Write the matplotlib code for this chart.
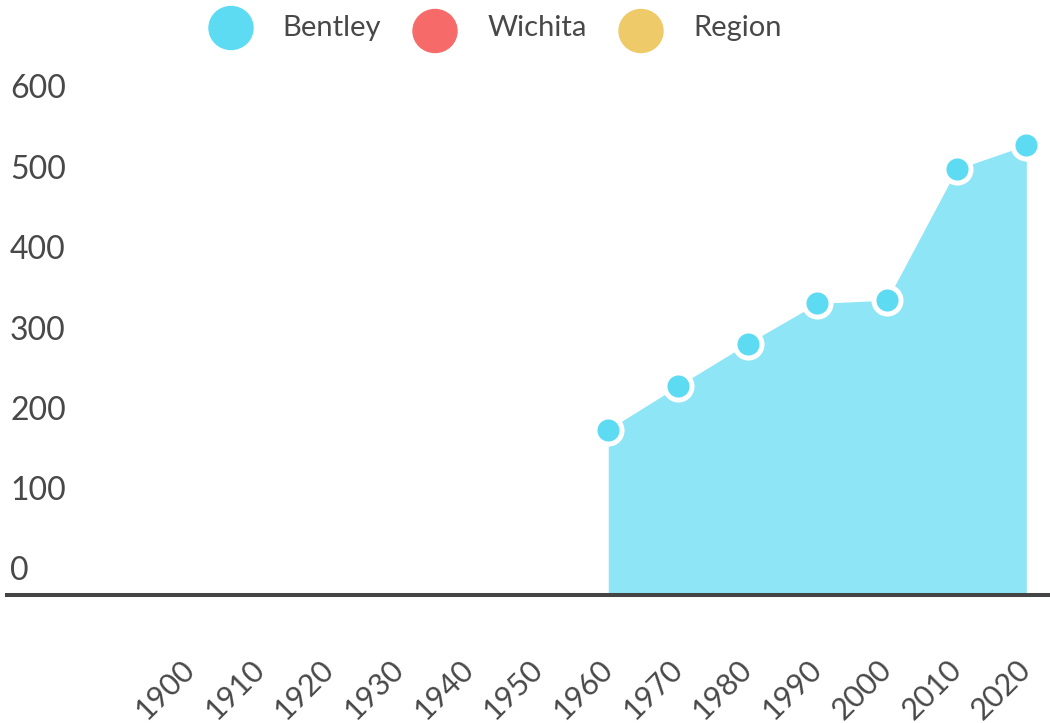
import matplotlib
matplotlib.use("Agg")
import matplotlib.pyplot as plt
from matplotlib.patches import Ellipse
from matplotlib.transforms import ScaledTranslation, blended_transform_factory

# population data (Bentley), no data before 1960
years = [1900, 1910, 1920, 1930, 1940, 1950, 1960, 1970, 1980, 1990, 2000, 2010, 2020]
data_years = [1960, 1970, 1980, 1990, 2000, 2010, 2020]
bentley = [206, 260, 313, 363, 367, 530, 560]
y_ticks = [0, 100, 200, 300, 400, 500, 600]
legend_names = ["Bentley", "Wichita", "Region"]
legend_colors = ["#5ddbf3", "#f76a6a", "#eeca69"]

text_color = "#484848"
fill_color = "#8de5f6"
plt.rcParams["font.family"] = ["Lato", "DejaVu Sans"]

W, H = 1050, 723
fig = plt.figure(figsize=(W / 100, H / 100), dpi=100)

# main axes: baseline at y=595 px, 600 at y=113 px
ax = fig.add_axes([7 / W, (H - 595) / H, 1043 / W, 482 / H])
ax.set_xlim(1873.7, 2023.4)
ax.set_ylim(0, 600)

ax.fill_between(data_years, bentley, 0, color=fill_color, linewidth=0, zorder=1)
ax.plot(data_years, bentley, linestyle="none", marker="o", markersize=19.5,
        markerfacecolor=legend_colors[0], markeredgecolor="white",
        markeredgewidth=3.6, clip_on=False, zorder=3)

for side in ["top", "right", "left"]:
    ax.spines[side].set_visible(False)
ax.spines["bottom"].set_color("#444444")
ax.spines["bottom"].set_linewidth(2.9)
ax.spines["bottom"].set_zorder(4)

ax.set_yticks([])
ax.set_xticks(years)
ax.set_xticklabels([str(y) for y in years], rotation=45, ha="right", va="center",
                   rotation_mode="anchor", fontsize=22, color=text_color)
ax.tick_params(axis="x", length=0, pad=50)

# y labels sit above their value, left aligned
trans = blended_transform_factory(ax.transAxes, ax.transData)
offset = ScaledTranslation(0, 0.235, fig.dpi_scale_trans)
for v in y_ticks:
    ax.text(3 / 1043, v, str(v), transform=trans + offset, ha="left", va="center",
            fontsize=23, color=text_color)

# legend drawn in pixel coordinates
lax = fig.add_axes([0, 0, 1, 1], zorder=5)
lax.set_xlim(0, W)
lax.set_ylim(H, 0)
lax.axis("off")
circle_x = [231, 435, 641]
circle_y = [28, 31, 31]
text_x = [282, 488, 693]
for name, color, cx, cy, tx in zip(legend_names, legend_colors, circle_x, circle_y, text_x):
    lax.add_patch(Ellipse((cx, cy), 44, 43, color=color))
    lax.text(tx, 28, name, ha="left", va="center", fontsize=21, color=text_color)

fig.savefig("out.png", dpi=100)
